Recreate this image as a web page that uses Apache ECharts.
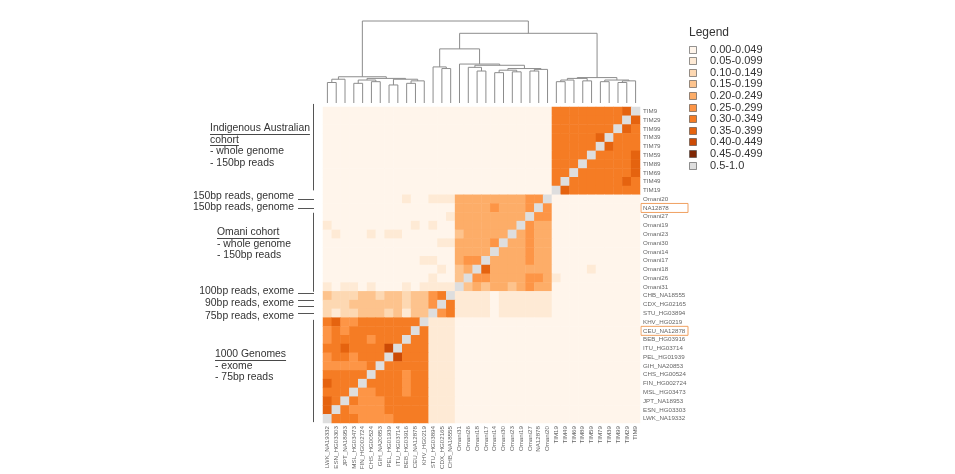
<!DOCTYPE html>
<html><head><meta charset="utf-8">
<script src="https://cdn.jsdelivr.net/npm/echarts/dist/echarts.min.js"></script>
<style>html,body{margin:0;padding:0;background:#fff}#c{width:955px;height:474px}</style>
</head><body><div id="c"></div>
<script>
// ---------------- DATA ----------------
const rowLabels = ['TIM9','TIM29','TIM99','TIM39','TIM79','TIM59','TIM89','TIM69','TIM49','TIM19',
  'Omani20','NA12878','Omani27','Omani19','Omani23','Omani30','Omani14','Omani17','Omani18','Omani26','Omani31',
  'CHB_NA18555','CDX_HG02165','STU_HG03894','KHV_HG0219','CEU_NA12878','BEB_HG03916','ITU_HG03714','PEL_HG01939',
  'GIH_NA20853','CHS_HG00524','FIN_HG002724','MSL_HG03473','JPT_NA18953','ESN_HG03303','LWK_NA19332'];
const colLabels = ['LWK_NA19332','ESN_HG03303','JPT_NA18953','MSL_HG03473','FIN_HG002724','CHS_HG00524','GIH_NA20853',
  'PEL_HG01939','ITU_HG03714','BEB_HG03916','CEU_NA12878','KHV_HG0219','STU_HG03894','CDX_HG02165','CHB_NA18555',
  'Omani31','Omani26','Omani18','Omani17','Omani14','Omani30','Omani23','Omani19','Omani27','NA12878','Omani20',
  'TIM19','TIM49','TIM69','TIM89','TIM59','TIM79','TIM39','TIM99','TIM29','TIM9'];
const highlighted = ['NA12878','CEU_NA12878'];

// relatedness values, rows top->bottom, columns left->right
// segments: 1000G 75bp (12) | exome 100/90bp (3) | Omani (11) | TIM (10)
const values = [
[.02,.02,.02,.02,.02,.02,.02,.02,.02,.02,.02,.02, .02,.02,.02, .02,.02,.02,.02,.02,.02,.02,.02,.02,.02,.02, .32,.32,.32,.32,.32,.32,.32,.32,.37,1],
[.02,.02,.02,.02,.02,.02,.02,.02,.02,.02,.02,.02, .02,.02,.02, .02,.02,.02,.02,.02,.02,.02,.02,.02,.02,.02, .32,.32,.32,.32,.32,.32,.32,.32,1,.37],
[.02,.02,.02,.02,.02,.02,.02,.02,.02,.02,.02,.02, .02,.02,.02, .02,.02,.02,.02,.02,.02,.02,.02,.02,.02,.02, .32,.32,.32,.32,.32,.32,.32,1,.37,.32],
[.02,.02,.02,.02,.02,.02,.02,.02,.02,.02,.02,.02, .02,.02,.02, .02,.02,.02,.02,.02,.02,.02,.02,.02,.02,.02, .32,.32,.32,.32,.32,.37,1,.32,.32,.32],
[.02,.02,.02,.02,.02,.02,.02,.02,.02,.02,.02,.02, .02,.02,.02, .02,.02,.02,.02,.02,.02,.02,.02,.02,.02,.02, .32,.32,.32,.32,.32,1,.37,.32,.32,.32],
[.02,.02,.02,.02,.02,.02,.02,.02,.02,.02,.02,.02, .02,.02,.02, .02,.02,.02,.02,.02,.02,.02,.02,.02,.02,.02, .32,.32,.32,.32,1,.32,.32,.32,.32,.37],
[.02,.02,.02,.02,.02,.02,.02,.02,.02,.02,.02,.02, .02,.02,.02, .02,.02,.02,.02,.02,.02,.02,.02,.02,.02,.02, .32,.32,.32,1,.32,.32,.32,.32,.32,.37],
[.02,.02,.02,.02,.02,.02,.02,.02,.02,.02,.02,.02, .02,.02,.02, .02,.02,.02,.02,.02,.02,.02,.02,.02,.02,.02, .32,.32,1,.32,.32,.32,.32,.32,.32,.37],
[.02,.02,.02,.02,.02,.02,.02,.02,.02,.02,.02,.02, .02,.02,.02, .02,.02,.02,.02,.02,.02,.02,.02,.02,.02,.02, .32,1,.32,.32,.32,.32,.32,.32,.37,.32],
[.02,.02,.02,.02,.02,.02,.02,.02,.02,.02,.02,.02, .02,.02,.02, .02,.02,.02,.02,.02,.02,.02,.02,.02,.02,.02, 1,.37,.32,.32,.32,.32,.32,.32,.32,.32],
[.02,.02,.02,.02,.02,.02,.02,.02,.02,.07,.02,.02, .07,.07,.07, .22,.22,.22,.22,.22,.22,.22,.22,.27,.27,1, .02,.02,.02,.02,.02,.02,.02,.02,.02,.02],
[.02,.02,.02,.02,.02,.02,.02,.02,.02,.02,.02,.02, .02,.02,.02, .22,.22,.22,.22,.27,.22,.22,.22,.27,1,.27, .02,.02,.02,.02,.02,.02,.02,.02,.02,.02],
[.02,.02,.02,.02,.02,.02,.02,.02,.02,.02,.02,.02, .02,.02,.07, .22,.22,.22,.22,.22,.22,.22,.22,1,.27,.27, .02,.02,.02,.02,.02,.02,.02,.02,.02,.02],
[.07,.02,.02,.02,.02,.02,.02,.02,.02,.02,.07,.02, .07,.02,.02, .22,.22,.22,.22,.22,.22,.22,1,.27,.22,.22, .02,.02,.02,.02,.02,.02,.02,.02,.02,.02],
[.02,.07,.02,.02,.02,.07,.02,.07,.07,.02,.02,.02, .02,.02,.02, .17,.22,.22,.22,.22,.22,1,.22,.27,.22,.22, .02,.02,.02,.02,.02,.02,.02,.02,.02,.02],
[.02,.02,.02,.02,.02,.02,.02,.02,.02,.02,.02,.02, .02,.07,.07, .22,.22,.22,.22,.27,1,.22,.22,.27,.22,.22, .02,.02,.02,.02,.02,.02,.02,.02,.02,.02],
[.02,.02,.02,.02,.02,.02,.02,.02,.02,.02,.02,.02, .02,.02,.02, .22,.22,.22,.22,1,.22,.22,.22,.27,.22,.22, .02,.02,.02,.02,.02,.02,.02,.02,.02,.02],
[.02,.02,.02,.02,.02,.02,.02,.02,.02,.02,.02,.07, .07,.02,.02, .22,.27,.27,1,.22,.22,.22,.22,.27,.22,.22, .02,.02,.02,.02,.02,.02,.02,.02,.02,.02],
[.02,.02,.02,.02,.02,.02,.02,.02,.02,.02,.02,.02, .02,.07,.02, .17,.22,1,.37,.22,.22,.22,.22,.22,.22,.22, .02,.02,.02,.02,.07,.02,.02,.02,.02,.02],
[.02,.02,.02,.02,.02,.02,.02,.02,.02,.02,.02,.02, .07,.02,.02, .17,1,.27,.27,.22,.22,.22,.22,.27,.27,.22, .07,.02,.02,.02,.02,.02,.02,.02,.02,.02],
[.07,.02,.07,.07,.02,.07,.02,.02,.02,.07,.02,.07, .07,.07,.07, 1,.17,.22,.17,.22,.22,.17,.22,.27,.22,.22, .02,.02,.02,.02,.02,.02,.02,.02,.02,.02],
[.17,.12,.12,.12,.17,.17,.12,.17,.17,.12,.17,.17, .27,.32,1, .07,.07,.07,.07,.02,.07,.07,.07,.07,.07,.07, .02,.02,.02,.02,.02,.02,.02,.02,.02,.02],
[.12,.12,.12,.17,.17,.17,.17,.17,.17,.12,.17,.17, .27,1,.32, .07,.07,.07,.07,.02,.07,.07,.07,.07,.07,.07, .02,.02,.02,.02,.02,.02,.02,.02,.02,.02],
[.12,.07,.12,.12,.17,.17,.17,.12,.17,.07,.17,.17, 1,.27,.32, .07,.07,.07,.07,.02,.07,.07,.07,.07,.07,.07, .02,.02,.02,.02,.02,.02,.02,.02,.02,.02],
[.32,.37,.27,.27,.32,.32,.32,.32,.32,.32,.32,1, .07,.07,.07, .02,.02,.02,.02,.02,.02,.02,.02,.02,.02,.02, .02,.02,.02,.02,.02,.02,.02,.02,.02,.02],
[.27,.32,.27,.32,.32,.32,.32,.32,.32,.32,1,.32, .07,.07,.07, .02,.02,.02,.02,.02,.02,.02,.02,.02,.02,.02, .02,.02,.02,.02,.02,.02,.02,.02,.02,.02],
[.27,.32,.32,.32,.32,.27,.32,.32,.32,1,.32,.32, .07,.07,.07, .02,.02,.02,.02,.02,.02,.02,.02,.02,.02,.02, .02,.02,.02,.02,.02,.02,.02,.02,.02,.02],
[.32,.32,.37,.32,.32,.32,.32,.42,1,.32,.32,.32, .07,.07,.07, .02,.02,.02,.02,.02,.02,.02,.02,.02,.02,.02, .02,.02,.02,.02,.02,.02,.02,.02,.02,.02],
[.27,.32,.32,.27,.32,.32,.32,1,.42,.32,.32,.32, .07,.07,.07, .02,.02,.02,.02,.02,.02,.02,.02,.02,.02,.02, .02,.02,.02,.02,.02,.02,.02,.02,.02,.02],
[.27,.27,.27,.27,.27,.32,1,.32,.32,.32,.32,.32, .07,.07,.07, .02,.02,.02,.02,.02,.02,.02,.02,.02,.02,.02, .02,.02,.02,.02,.02,.02,.02,.02,.02,.02],
[.32,.32,.32,.32,.32,1,.32,.32,.32,.27,.32,.32, .07,.07,.07, .02,.02,.02,.02,.02,.02,.02,.02,.02,.02,.02, .02,.02,.02,.02,.02,.02,.02,.02,.02,.02],
[.37,.32,.32,.32,1,.32,.32,.32,.32,.27,.32,.32, .07,.07,.07, .02,.02,.02,.02,.02,.02,.02,.02,.02,.02,.02, .02,.02,.02,.02,.02,.02,.02,.02,.02,.02],
[.32,.32,.32,1,.27,.27,.32,.32,.32,.27,.32,.32, .07,.07,.07, .02,.02,.02,.02,.02,.02,.02,.02,.02,.02,.02, .02,.02,.02,.02,.02,.02,.02,.02,.02,.02],
[.37,.32,1,.32,.27,.27,.27,.32,.32,.32,.32,.32, .07,.07,.07, .02,.02,.02,.02,.02,.02,.02,.02,.02,.02,.02, .02,.02,.02,.02,.02,.02,.02,.02,.02,.02],
[.37,1,.32,.27,.27,.27,.27,.32,.32,.32,.32,.32, .07,.07,.07, .02,.02,.02,.02,.02,.02,.02,.02,.02,.02,.02, .02,.02,.02,.02,.02,.02,.02,.02,.02,.02],
[1,.32,.32,.32,.27,.27,.27,.27,.32,.32,.32,.32, .07,.07,.07, .02,.02,.02,.02,.02,.02,.02,.02,.02,.02,.02, .02,.02,.02,.02,.02,.02,.02,.02,.02,.02]
];

// dendrogram linkage over the column order: [nodeA, nodeB, height]; new node id = 36 + index
const merges = [
[0,1,.25],[36,2,.29],[3,4,.24],[5,6,.26],[38,39,.28],[7,8,.22],[9,10,.24],[42,11,.27],[41,43,.29],[40,44,.30],[37,45,.32],
[13,14,.42],[12,47,.44],
[17,18,.39],[16,49,.435],[19,20,.37],[21,22,.38],[51,52,.40],[23,24,.39],[54,25,.41],[53,55,.42],[50,56,.46],[15,57,.475],
[48,58,.66],
[26,27,.26],[60,28,.28],[29,30,.27],[61,62,.30],[31,32,.26],[33,34,.25],[65,35,.27],[64,66,.28],[63,67,.31],
[59,68,.85],[46,69,1.0]
];

const legendLabels = ['0.00-0.049','0.05-0.099','0.10-0.149','0.15-0.199','0.20-0.249','0.25-0.299','0.30-0.349','0.35-0.399','0.40-0.449','0.45-0.499','0.5-1.0'];
const pieceBounds = [[0,.05],[.05,.1],[.1,.15],[.15,.2],[.2,.25],[.25,.3],[.3,.35],[.35,.4],[.4,.45],[.45,.5],[.5,1.0001]];
const pieceColors = ['#fff5eb','#feead5','#fdd8b2','#fdc38d','#fdad68','#fd9546','#f57c24','#e5630f','#cc4a05','#7f2704','#dedede'];

// ---------------- LAYOUT ----------------
const grid = {left: 323, top: 107, width: 317, height: 316};
const dgrid = {left: 323, top: 21, width: 317, height: 82};
const cellH = grid.height / rowLabels.length;
const rowY = k => grid.top + k * cellH;
const FONT = '"Liberation Sans", Arial, sans-serif';
const annoSize = 10.4;
const ink = '#333';
const lineC = '#555';

const heatData = [];
values.forEach((row, r) => row.forEach((v, c) => heatData.push([c, r, v])));

function dendroItems() {
  const n = colLabels.length, pos = [], hgt = [], items = [];
  for (let i = 0; i < n; i++) { pos[i] = i; hgt[i] = 0; }
  merges.forEach((m, k) => {
    const [a, b, h] = m;
    items.push([pos[a], pos[b], hgt[a], hgt[b], h]);
    pos[n + k] = (pos[a] + pos[b]) / 2; hgt[n + k] = h;
  });
  return items;
}

const mctx = document.createElement('canvas').getContext('2d');
function textW(t, size) { mctx.font = size + 'px ' + FONT; return mctx.measureText(t).width; }

const graphics = [];
const bx = grid.left - 9.5;
[[-0.35, 9.5], [12.05, 21.05], [24.25, 35.9]].forEach(s => {
  graphics.push({type:'line', shape:{x1:bx, y1:rowY(s[0]), x2:bx, y2:rowY(s[1])}, style:{stroke:lineC, lineWidth:1}});
});
[10.5, 11.45, 21.2, 22.0, 22.7, 23.5].forEach(k => {
  const y = Math.round(rowY(k)) + 0.5;
  graphics.push({type:'line', shape:{x1:grid.left - 25, y1:y, x2:grid.left - 9, y2:y}, style:{stroke:lineC, lineWidth:1}});
});
[['150bp reads, genome', 10.15], ['150bp reads, genome', 11.45], ['100bp reads, exome', 21.0], ['90bp reads, exome', 22.4], ['75bp reads, exome', 23.85]].forEach(t => {
  graphics.push({type:'text', x: grid.left - 29, y: rowY(t[1]), style:{text:t[0], fill:ink, font: annoSize + 'px ' + FONT, textAlign:'right', textVerticalAlign:'middle'}});
});
const blocks = [
  {lines:['Indigenous Australian','cohort','- whole genome','- 150bp reads'], under:2, dx:-113, row:2.4},
  {lines:['Omani cohort','- whole genome','- 150bp reads'], under:1, dx:-106, row:14.25},
  {lines:['1000 Genomes','- exome','- 75bp reads'], under:1, dx:-108, row:28.15}
];
blocks.forEach(b => {
  b.lines.forEach((ln, i) => {
    const x = grid.left + b.dx, y = rowY(b.row) + i * 11.6;
    graphics.push({type:'text', x, y, style:{text:ln, fill:ink, font: annoSize + 'px ' + FONT, textAlign:'left', textVerticalAlign:'middle'}});
    if (i < b.under) {
      const uy = Math.round(y + 5.5) + 0.5;
      graphics.push({type:'line', shape:{x1:x, y1:uy, x2:x + textW(ln, annoSize), y2:uy}, style:{stroke:ink, lineWidth:0.9}});
    }
  });
});
const lgX = 689, lgY = 49.5, lgStep = 11.6;
graphics.push({type:'text', x: lgX, y: 33, style:{text:'Legend', fill:ink, font:'12px ' + FONT, textVerticalAlign:'middle'}});
legendLabels.forEach((lab, i) => {
  const y = lgY + i * lgStep;
  graphics.push({type:'rect', shape:{x:lgX + 0.5, y:Math.round(y - 4) + 0.5, width:7, height:7}, style:{fill:pieceColors[i], stroke:'rgba(60,60,60,0.55)', lineWidth:1}});
  graphics.push({type:'text', x: lgX + 21, y, style:{text:lab, fill:ink, font:'11px ' + FONT, textVerticalAlign:'middle'}});
});

const chart = echarts.init(document.getElementById('c'), null, {renderer:'canvas'});
chart.setOption({
  animation: false,
  backgroundColor: '#fff',
  grid: [
    {left:grid.left, top:grid.top, width:grid.width, height:grid.height},
    {left:dgrid.left, top:dgrid.top, width:dgrid.width, height:dgrid.height}
  ],
  xAxis: [
    {type:'category', data:colLabels, gridIndex:0, position:'bottom',
     axisLine:{show:false}, axisTick:{show:false}, splitLine:{show:false},
     axisLabel:{rotate:90, interval:0, fontSize:6.2, color:'#666', margin:3, fontFamily:FONT}},
    {type:'value', gridIndex:1, min:-0.5, max:colLabels.length - 0.5, show:false}
  ],
  yAxis: [
    {type:'category', data:rowLabels, gridIndex:0, inverse:true, position:'right',
     axisLine:{show:false}, axisTick:{show:false}, splitLine:{show:false},
     axisLabel:{interval:0, fontSize:6.2, color:'#666', margin:1, fontFamily:FONT,
       formatter: v => highlighted.includes(v) ? '{hl|' + v + '}' : '{n|' + v + '}',
       rich:{n:{padding:[0,0,0,2], fontSize:6.2, color:'#666'},
             hl:{padding:[2,3,1,2], borderColor:'#f0a060', borderWidth:1, width:42, fontSize:6.2, color:'#666'}}}},
    {type:'value', gridIndex:1, min:0, max:1, show:false}
  ],
  visualMap: {
    type:'piecewise', show:false, dimension:2, seriesIndex:0,
    pieces: pieceBounds.map((b, i) => ({gte:b[0], lt:b[1], color:pieceColors[i]}))
  },
  series: [
    {type:'heatmap', xAxisIndex:0, yAxisIndex:0, data:heatData, itemStyle:{borderWidth:0}, emphasis:{disabled:true}},
    {type:'custom', xAxisIndex:1, yAxisIndex:1, data:dendroItems(), clip:false, silent:true,
     encode:{x:[0,1], y:[2,3,4]},
     renderItem: (params, api) => {
       const p1 = api.coord([api.value(0), api.value(2)]);
       const p2 = api.coord([api.value(0), api.value(4)]);
       const p3 = api.coord([api.value(1), api.value(4)]);
       const p4 = api.coord([api.value(1), api.value(3)]);
       return {type:'polyline', shape:{points:[p1, p2, p3, p4]}, style:{stroke:'#8c8c8c', lineWidth:1, fill:null}};
     }}
  ],
  graphic: graphics
});
</script>
</body></html>
